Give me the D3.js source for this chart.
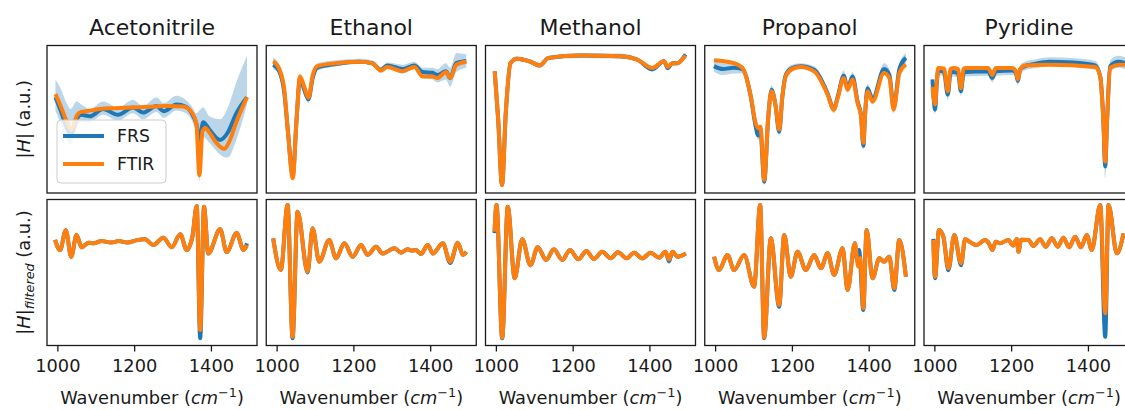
<!DOCTYPE html>
<html>
<head>
<meta charset="utf-8">
<script src="https://cdn.jsdelivr.net/npm/d3@7/dist/d3.min.js"></script>
<style>
  body { margin: 0; background: #fff; }
  svg { display: block; font-family: "DejaVu Sans", sans-serif; }
</style>
</head>
<body>
<svg id="chart" width="1125" height="410"></svg>
<script>
// ---- data -------------------------------------------------------------
const solvents = ["Acetonitrile", "Ethanol", "Methanol", "Propanol", "Pyridine"];
const seriesNames = ["FRS", "FTIR"];
const xTicks = [1000, 1200, 1400];

// |H| spectra, [wavenumber (cm^-1), amplitude (a.u.)]
const acetonitrileFrs = [[995,65],[1010,55],[1022,46],[1035,40],[1050,50],[1062,53],[1085,52],[1119,57],[1158,53],[1197,58],[1223,54.5],[1258,59],[1277,55.5],[1310,60],[1335,58.5],[1352,53],[1362,47],[1370,36],[1380,48],[1396,43],[1424,36],[1444,41],[1466,54],[1494,65]];
const acetonitrileFtir = [[995,67],[1010,58],[1022,50],[1037,43],[1050,52],[1062,55],[1090,56],[1110,57],[1150,57.5],[1196,58],[1240,58.5],[1284,59],[1327,58.6],[1349,55],[1362,47],[1370,12],[1378,42],[1386,44],[1396,41],[1414,34],[1435,30],[1448,35],[1466,48],[1494,65]];
const acetonitrileBand = [[995,56,77],[1010,46,70],[1022,38,62],[1035,33,57],[1050,44,62],[1062,48,60],[1085,48,57],[1119,53,62],[1158,49,58],[1197,54,63],[1223,50,59],[1258,55,65],[1277,51,61],[1310,56,66],[1335,54,63],[1352,48,58],[1362,40,54],[1370,8,56],[1380,38,58],[1396,34,52],[1424,26,50],[1444,24,58],[1466,36,75],[1494,60,93]];

const ethanolFrs = [[991,87],[1007,82.5],[1020,68],[1030,40],[1042,12],[1052,50],[1061,78],[1072,70],[1083,63.5],[1094,78],[1106,85],[1155,87.5],[1215,89],[1249,88],[1272,83.5],[1288,86.5],[1328,84],[1359,86.5],[1380,82],[1406,81.5],[1419,80],[1441,82.5],[1452,78],[1468,88],[1494,89.5]];
const ethanolFtir = [[991,89.3],[1007,84],[1020,70],[1030,40],[1042,10],[1052,50],[1061,79],[1072,72],[1083,64.6],[1094,80],[1106,86],[1155,88],[1215,89],[1249,88],[1272,83],[1288,85.5],[1328,82.5],[1359,85.5],[1380,79],[1406,79],[1419,78],[1441,82],[1452,78],[1468,87],[1494,89]];
const ethanolBand = [[991,84,92],[1007,80,86],[1020,66,71],[1030,38,43],[1042,10,14],[1052,48,53],[1061,76,81],[1072,68,72],[1083,61,66],[1094,76,81],[1106,83,88],[1155,86,90],[1215,88,91],[1249,86.5,90],[1272,81.5,85.5],[1288,84.5,88.5],[1328,81,87],[1359,84,89],[1380,78,85],[1406,77,85],[1419,75,84],[1441,77,88],[1452,72,85],[1468,82,95],[1494,85,94]];

const methanolFrs = [[997,82.5],[1006,50],[1016,5.4],[1026,55],[1038,88],[1055,91],[1090,89],[1114,86.5],[1137,91.6],[1221,93.2],[1325,92.7],[1368,90.5],[1407,83.8],[1438,89.3],[1448,84.5],[1459,88],[1472,88],[1494,94]];
const methanolFtir = [[997,82.5],[1006,50],[1016,5.4],[1026,55],[1038,88],[1055,91],[1090,89],[1114,86.5],[1137,91.6],[1221,93.2],[1325,92.7],[1368,90.5],[1407,84.8],[1438,89.3],[1448,85.5],[1459,88],[1472,88],[1494,93.2]];
const methanolBand = [[997,80,85],[1006,48,52],[1016,4,7],[1026,53,57],[1038,86.5,89.5],[1055,89.5,92.5],[1090,87.5,90.5],[1114,85,88],[1137,90,93],[1221,91.5,94.5],[1325,91,94.5],[1368,89,92],[1407,82.5,86],[1438,88,91],[1448,83.5,87],[1459,86.5,89.5],[1472,86.5,89.5],[1494,92,95]];

const propanolFrs = [[997,86],[1020,84],[1049,85],[1071,84],[1093,65],[1105,46],[1112,39],[1118,42],[1128,7.7],[1138,50],[1147,70],[1157,60],[1167,41.5],[1175,65],[1184,80],[1200,84.5],[1223,86],[1258,83.5],[1293,67.5],[1309,57],[1320,66],[1335,79.5],[1345,71],[1358,79],[1371,62],[1380,53],[1386,32],[1391,55],[1397,71],[1410,63.5],[1440,84],[1454,80],[1465,58],[1480,84],[1497,91.6]];
const propanolFtir = [[997,90],[1049,88],[1071,84.8],[1093,65.5],[1105,48],[1112,44],[1118,45],[1128,8.8],[1138,50],[1147,69],[1157,60],[1167,43],[1175,65],[1184,79],[1200,84],[1223,85.5],[1258,82.5],[1293,66.7],[1309,56.5],[1320,65],[1335,78],[1345,70],[1358,77],[1371,61],[1380,52],[1386,34],[1391,55],[1397,69],[1410,62],[1440,81.4],[1454,78],[1465,56.5],[1480,81.4],[1497,87]];
const propanolBand = [[997,82,91],[1020,80,88],[1049,81,88],[1071,81,87],[1093,62,68],[1105,43,49],[1112,36,42],[1118,39,45],[1128,5,10],[1138,47,53],[1147,67,73],[1157,57,63],[1167,38.5,44.5],[1175,62,68],[1184,77,83],[1200,82,87],[1223,84,88],[1258,81,86],[1293,65,70],[1309,54,60],[1320,63,69],[1335,76,83],[1345,68,74],[1358,76,82],[1371,59,65],[1380,50,56],[1386,29,35],[1391,52,58],[1397,68,74],[1410,60,67],[1440,80,88],[1454,76,84],[1465,54,62],[1480,80,88],[1497,88,95]];

const pyridineFrs = [[995,77],[1002,56.5],[1006,73],[1010,83],[1025,82],[1035,66.7],[1042,81],[1049,82],[1062,81],[1069,69],[1076,81],[1080,82],[1140,82.5],[1151,78],[1160,82.5],[1202,83],[1212,82],[1217,76],[1224,84],[1236,86],[1260,87.5],[1300,89],[1360,88.5],[1419,86.5],[1432,79],[1440,50],[1445,18],[1450,50],[1458,86],[1480,89],[1497,88]];
const pyridineFtir = [[995,72],[1002,60],[1006,75],[1010,84.8],[1025,84.5],[1035,69],[1042,84],[1049,84.8],[1062,84],[1069,71],[1076,84],[1080,84.8],[1140,84.8],[1151,80],[1160,84.8],[1202,84.8],[1212,83],[1217,77],[1224,84],[1236,86.4],[1300,87],[1419,85.5],[1432,79],[1440,50],[1445,21.3],[1450,50],[1458,84.8],[1480,87],[1497,87]];
const pyridineBand = [[995,72,80],[1002,53,60],[1006,70,76],[1010,80,86],[1025,79,85],[1035,63,70],[1042,78,84],[1049,79,85],[1062,78,84],[1069,66,72],[1076,78,84],[1080,79,85],[1140,79.5,85.5],[1151,75,81],[1160,79.5,85.5],[1202,80,86],[1212,79,85],[1217,73,79],[1224,81,87],[1236,83,89],[1260,84.5,90.5],[1300,86,92],[1360,85.5,91.5],[1419,83.5,89.5],[1432,74,83],[1440,40,56],[1445,10,28],[1450,40,56],[1458,82,90],[1480,85,93],[1497,84,92]];

// |H| after filtering, [wavenumber (cm^-1), amplitude (a.u.)]
const acetonitrileFrsFiltered = [[994,72.3],[1007,65.4],[1022,79],[1036,60.8],[1050,75.7],[1063,67.3],[1081,70.4],[1095,70],[1115,71.5],[1140,70.5],[1160,71.5],[1183,70.5],[1205,72],[1228,72.7],[1250,68.8],[1276,73.8],[1298,67.3],[1320,76.2],[1337,65.4],[1352,75],[1363,95.5],[1372,5],[1382,95],[1393,63],[1424,79.6],[1441,64],[1467,77],[1485,65.4],[1494,70]];
const acetonitrileFtirFiltered = [[994,72.3],[1007,65.4],[1022,79],[1036,60.8],[1050,75.7],[1063,67.3],[1081,70.4],[1095,70],[1115,71.5],[1140,70.5],[1160,71.5],[1183,70.5],[1205,72],[1228,72.7],[1250,68.8],[1276,73.8],[1298,67.3],[1320,76.2],[1337,65.4],[1352,75],[1363,95.5],[1372,10.6],[1382,95],[1393,63],[1424,79.6],[1441,64],[1467,77],[1485,65.4],[1494,68.8]];

const ethanolFrsFiltered = [[991,73.4],[1011,51.7],[1028.6,96.2],[1041.6,5],[1054.6,91.6],[1080.7,50],[1093.7,80.3],[1111,57.4],[1137,72.3],[1154.7,59.7],[1176.4,70],[1198,60.8],[1220,68.8],[1237,62],[1259,67.7],[1276,63],[1307,66.6],[1324,63.6],[1341.5,65.9],[1352,65],[1363,65.4],[1376,62.7],[1393.7,68.8],[1407,63],[1433,70],[1452,56.5],[1472,70.4],[1485,62],[1494,64.2]];
const ethanolFtirFiltered = [[991,73.4],[1011,51.7],[1028.6,96.2],[1041.6,6],[1054.6,91.6],[1080.7,50.5],[1093.7,80.3],[1111,57.4],[1137,72.3],[1154.7,59.7],[1176.4,70],[1198,60.8],[1220,68.8],[1237,62],[1259,67.7],[1276,63],[1307,66.6],[1324,63.6],[1341.5,65.9],[1352,65],[1363,65.4],[1376,62.7],[1393.7,68.8],[1407,63],[1433,70],[1452,57.4],[1472,70.4],[1485,62],[1494,64.2]];

const methanolFrsFiltered = [[996.5,77],[1001.7,96.2],[1016.5,4.9],[1031,95],[1049,46],[1068.6,72.7],[1090,55],[1109,67.3],[1131,58.6],[1151,65.9],[1173,58.6],[1193,65.4],[1215,59],[1236,64.7],[1255.5,59.2],[1277,64.2],[1299,59.7],[1318,63.8],[1341,59.7],[1360,63.6],[1381.5,59.7],[1403,63.6],[1425,60.2],[1442,64.2],[1451,57.5],[1460,64.2],[1473,60.8],[1495,63]];
const methanolFtirFiltered = [[996.5,78],[1001.7,96.2],[1016.5,5.5],[1031,95],[1049,46],[1068.6,72.7],[1090,55],[1109,67.3],[1131,58.6],[1151,65.9],[1173,58.6],[1193,65.4],[1215,59],[1236,64.7],[1255.5,59.2],[1277,64.2],[1299,59.7],[1318,63.8],[1341,59.7],[1360,63.6],[1381.5,59.7],[1403,63.6],[1425,60.2],[1442,64.2],[1451,59],[1460,64.2],[1473,60.8],[1495,63]];

const propanolFrsFiltered = [[997.3,60.8],[1010.4,51.7],[1032,62],[1049.5,51.7],[1075.6,62],[1101.6,40.3],[1117.3,96.2],[1127.7,4.9],[1145,73.4],[1166.8,26.5],[1180,75.7],[1197,47.1],[1214.6,64.2],[1236.4,51.7],[1258,62],[1275.5,52.9],[1293,63.1],[1310,48.3],[1332,66.6],[1345,38],[1364,70],[1370,58],[1375,65.4],[1386,24.3],[1394.6,79.1],[1410,46],[1427.6,59.7],[1440.6,57.4],[1453.7,60.8],[1466.7,38],[1479.7,72.3],[1497,47.1]];
const propanolFtirFiltered = [[997.3,60.8],[1010.4,51.7],[1032,62],[1049.5,51.7],[1075.6,62],[1101.6,40.3],[1117.3,96.2],[1127.7,5.5],[1145,73.4],[1166.8,27.7],[1180,75.7],[1197,47.1],[1214.6,64.2],[1236.4,51.7],[1258,62],[1275.5,52.9],[1293,63.1],[1310,48.3],[1332,66.6],[1345,38],[1364,70],[1372.8,54],[1378,60],[1386,25.5],[1394.6,79.1],[1410,46],[1427.6,59.7],[1440.6,57.4],[1453.7,60.8],[1466.7,39.2],[1479.7,72.3],[1497,47.1]];

const pyridineFrsFiltered = [[997.3,73],[1001.7,46],[1012,79.1],[1023.4,74.5],[1036.5,51.5],[1052,75.7],[1069.5,55],[1080,72.7],[1095,70.5],[1110,68.8],[1132,72.3],[1142,70],[1151,65.4],[1160,71],[1171,70],[1193,72.3],[1205,68.5],[1214.6,73],[1219,64.2],[1226,72.5],[1245,72.3],[1258,68.2],[1275.5,72.7],[1290,67.7],[1306,73.4],[1321.5,67.7],[1336,73.8],[1351,67.3],[1366.7,74.5],[1382,67.3],[1397,75.7],[1410,65.4],[1432,96.2],[1445,6],[1453.7,96.2],[1475.4,63.1],[1492.8,76.8]];
const pyridineFtirFiltered = [[997.3,72.3],[1001.7,47.1],[1012,79.1],[1023.4,74.5],[1036.5,52.9],[1052,75.7],[1069.5,56.3],[1080,72.7],[1095,70.5],[1110,68.8],[1132,72.3],[1142,70],[1151,65.4],[1160,71],[1171,70],[1193,72.3],[1205,68.5],[1214.6,73],[1219,64.2],[1226,72.5],[1245,72.3],[1258,68.2],[1275.5,72.7],[1290,67.7],[1306,73.4],[1321.5,67.7],[1336,73.8],[1351,67.3],[1366.7,74.5],[1382,67.3],[1397,75.7],[1410,65.4],[1432,96.2],[1445,22],[1453.7,96.2],[1475.4,63.1],[1492.8,76.8]];

// ---- layout -----------------------------------------------------------
const colors = { FRS: "#1f77b4", FTIR: "#ff7f0e" };
const font = "DejaVu Sans";
const ink = "#1a1a1a";
const panelW = 210, colStep = 219.25, left0 = 47;
const rows = [{ top: 45.5, h: 147.5 }, { top: 199.5, h: 146 }];
const xDomain = [973, 1520];

const rawFrs = [acetonitrileFrs, ethanolFrs, methanolFrs, propanolFrs, pyridineFrs];
const rawFtir = [acetonitrileFtir, ethanolFtir, methanolFtir, propanolFtir, pyridineFtir];
const rawBand = [acetonitrileBand, ethanolBand, methanolBand, propanolBand, pyridineBand];
const filtFrs = [acetonitrileFrsFiltered, ethanolFrsFiltered, methanolFrsFiltered, propanolFrsFiltered, pyridineFrsFiltered];
const filtFtir = [acetonitrileFtirFiltered, ethanolFtirFiltered, methanolFtirFiltered, propanolFtirFiltered, pyridineFtirFiltered];

const svg = d3.select("#chart");
const defs = svg.append("defs");

solvents.forEach((name, c) => {
  const left = left0 + c * colStep;
  const x = d3.scaleLinear().domain(xDomain).range([left, left + panelW]);

  rows.forEach((row, r) => {
    const y = d3.scaleLinear().domain([0, 100]).range([row.top + row.h, row.top]);
    const clipId = `clip-${c}-${r}`;
    defs.append("clipPath").attr("id", clipId)
      .append("rect").attr("x", left).attr("y", row.top).attr("width", panelW).attr("height", row.h);

    const g = svg.append("g").attr("clip-path", `url(#${clipId})`);
    const line = d3.line().x(d => x(d[0])).y(d => y(d[1])).curve(d3.curveMonotoneX);

    // spread of the FRS repeats, raw spectra only
    if (r === 0) {
      const area = d3.area().x(d => x(d[0])).y0(d => y(d[1])).y1(d => y(d[2])).curve(d3.curveMonotoneX);
      g.append("path").datum(rawBand[c]).attr("d", area)
        .attr("fill", colors.FRS).attr("fill-opacity", 0.3);
    }
    const frs = r === 0 ? rawFrs[c] : filtFrs[c];
    const ftir = r === 0 ? rawFtir[c] : filtFtir[c];
    g.append("path").datum(frs).attr("d", line)
      .attr("fill", "none").attr("stroke", colors.FRS).attr("stroke-width", 4)
      .attr("stroke-linejoin", "round");
    g.append("path").datum(ftir).attr("d", line)
      .attr("fill", "none").attr("stroke", colors.FTIR).attr("stroke-width", 4)
      .attr("stroke-linejoin", "round");

    // frame
    svg.append("rect").attr("x", left).attr("y", row.top).attr("width", panelW).attr("height", row.h)
      .attr("fill", "none").attr("stroke", ink).attr("stroke-width", 1.3);

    if (r === 0) {
      svg.append("text").attr("x", left + panelW / 2).attr("y", 35)
        .attr("text-anchor", "middle").attr("font-family", font).attr("font-size", 22)
        .attr("fill", ink).text(name);
    } else {
      const axis = d3.axisBottom(x).tickValues(xTicks).tickFormat(d3.format("d"))
        .tickSize(6).tickPadding(8);
      const ag = svg.append("g").attr("transform", `translate(0,${row.top + row.h})`).call(axis);
      ag.select(".domain").remove();
      ag.selectAll(".tick line").attr("stroke", ink).attr("stroke-width", 1.3);
      ag.selectAll(".tick text").attr("font-family", font).attr("font-size", 17.8).attr("fill", ink);

      const xl = svg.append("text").attr("x", left + panelW / 2).attr("y", 404)
        .attr("text-anchor", "middle").attr("font-family", font).attr("font-size", 17.8)
        .attr("fill", ink);
      xl.append("tspan").text("Wavenumber (");
      xl.append("tspan").attr("font-style", "italic").text("cm");
      xl.append("tspan").attr("font-size", 12.8).attr("dy", -7).text("\u22121");
      xl.append("tspan").attr("dy", 7).text(")");
    }
  });
});

// y-axis labels
const ylTop = svg.append("text")
  .attr("transform", `translate(30,${rows[0].top + rows[0].h / 2}) rotate(-90)`)
  .attr("text-anchor", "middle").attr("font-family", font).attr("font-size", 17.8).attr("fill", ink);
ylTop.append("tspan").text("|");
ylTop.append("tspan").attr("font-style", "italic").text("H");
ylTop.append("tspan").text("| (a.u.)");

const ylBot = svg.append("text")
  .attr("transform", `translate(30,${rows[1].top + rows[1].h / 2}) rotate(-90)`)
  .attr("text-anchor", "middle").attr("font-family", font).attr("font-size", 17.8).attr("fill", ink);
ylBot.append("tspan").text("|");
ylBot.append("tspan").attr("font-style", "italic").text("H");
ylBot.append("tspan").text("|");
ylBot.append("tspan").attr("font-style", "italic").attr("font-size", 12.8).attr("dy", 4).text("filtered");
ylBot.append("tspan").attr("dy", -4).text(" (a.u.)");

// legend
const lg = svg.append("g");
lg.append("rect").attr("x", 57).attr("y", 120).attr("width", 109).attr("height", 63).attr("rx", 4)
  .attr("fill", "#fff").attr("fill-opacity", 0.8).attr("stroke", "#cccccc").attr("stroke-width", 1);
seriesNames.forEach((s, i) => {
  const yy = 136 + i * 28;
  lg.append("line").attr("x1", 63).attr("x2", 104).attr("y1", yy).attr("y2", yy)
    .attr("stroke", colors[s]).attr("stroke-width", 4);
  lg.append("text").attr("x", 117).attr("y", yy + 6).attr("font-family", font).attr("font-size", 17.3)
    .attr("fill", ink).text(s);
});
</script>
</body>
</html>
